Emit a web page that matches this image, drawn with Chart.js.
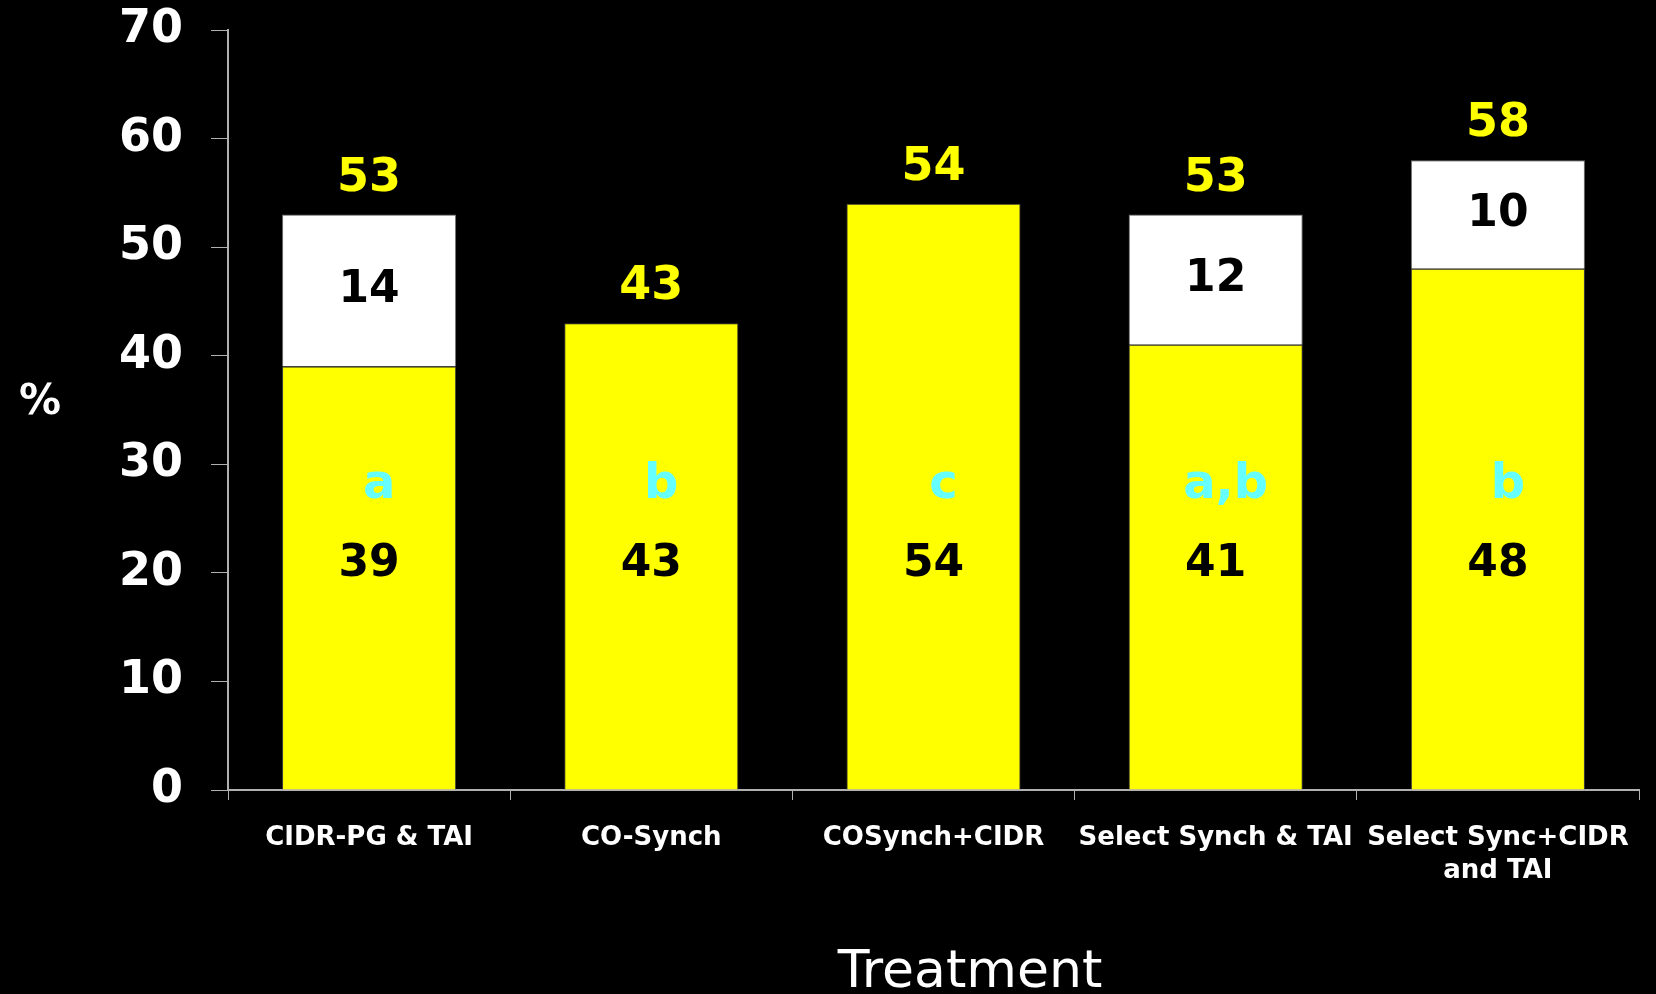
<!DOCTYPE html>
<html>
<head>
<meta charset="utf-8">
<script src="https://cdn.jsdelivr.net/npm/chart.js@4.4.0/dist/chart.umd.min.js"></script>
<style>
  body { margin: 0; background: #000; }
  #wrap { width: 1656px; height: 994px; }
</style>
</head>
<body>
<div id="wrap"><canvas id="treatChart" width="1656" height="994"></canvas></div>
<script>
// data
const treatments = [
  "CIDR-PG & TAI",
  "CO-Synch",
  "COSynch+CIDR",
  "Select Synch & TAI",
  ["Select Sync+CIDR", "and TAI"],
];
const firstPart = [39, 43, 54, 41, 48];
const secondPart = [14, null, null, 12, 10];
const totals = [53, 43, 54, 53, 58];
const letters = ["a", "b", "c", "a,b", "b"];
const yTicks = [0, 10, 20, 30, 40, 50, 60, 70];

const FONT = "'DejaVu Sans', Verdana, sans-serif";

// draws the numbers, letters and the two axis titles
const slideLabels = {
  id: "slideLabels",
  afterDatasetsDraw(chart) {
    const ctx = chart.ctx;
    const y = chart.scales.y;
    const low = chart.getDatasetMeta(0).data;
    const high = chart.getDatasetMeta(1).data;
    ctx.save();
    ctx.textAlign = "center";
    ctx.textBaseline = "middle";

    low.forEach((bar, i) => {
      const topY = secondPart[i] ? high[i].y : bar.y;

      ctx.fillStyle = "#ffff00";
      ctx.font = "bold 46px " + FONT;
      ctx.fillText(String(totals[i]), bar.x, topY - 36);

      ctx.fillStyle = "#66ffff";
      ctx.font = "bold 48px " + FONT;
      ctx.fillText(letters[i], bar.x + 10, y.getPixelForValue(28));

      ctx.fillStyle = "#000";
      ctx.font = "bold 44px " + FONT;
      ctx.fillText(String(firstPart[i]), bar.x, y.getPixelForValue(20.8));

      if (secondPart[i]) {
        const h = high[i];
        ctx.fillText(String(secondPart[i]), h.x, (h.y + h.base) / 2);
      }
    });

    ctx.fillStyle = "#fff";
    ctx.font = "bold 42px " + FONT;
    ctx.fillText("%", 40, 403);

    ctx.font = "52px " + FONT;
    ctx.fillText("Treatment", 970, 973);
    ctx.restore();
  },
};

const ctx = document.getElementById("treatChart");

new Chart(ctx, {
  type: "bar",
  data: {
    labels: treatments,
    datasets: [
      {
        label: "first",
        data: firstPart,
        backgroundColor: "#ffff00",
        borderColor: "#404040",
        borderWidth: 1,
        barPercentage: 0.617,
        categoryPercentage: 1,
      },
      {
        label: "second",
        data: secondPart,
        backgroundColor: "#ffffff",
        borderColor: "#707070",
        borderWidth: 1,
        barPercentage: 0.617,
        categoryPercentage: 1,
      },
    ],
  },
  options: {
    responsive: false,
    animation: false,
    layout: { padding: { top: 30, right: 17, bottom: 0, left: 0 } },
    plugins: {
      legend: { display: false },
      tooltip: { enabled: false },
    },
    scales: {
      x: {
        stacked: true,
        border: { color: "#b0b0b0", width: 2 },
        grid: {
          drawOnChartArea: false,
          drawTicks: true,
          tickLength: 10,
          color: "#b0b0b0",
        },
        ticks: {
          color: "#fff",
          font: { family: FONT, size: 26, weight: "bold", lineHeight: 1.3 },
          maxRotation: 0,
          autoSkip: false,
          padding: 21,
        },
        afterFit(scale) {
          scale.height = 204;
        },
      },
      y: {
        stacked: true,
        min: 0,
        max: 70,
        afterBuildTicks(scale) {
          scale.ticks = yTicks.map((v) => ({ value: v }));
        },
        border: { color: "#b0b0b0", width: 2 },
        grid: {
          drawOnChartArea: false,
          drawTicks: true,
          tickLength: 17,
          color: "#b0b0b0",
        },
        ticks: {
          color: "#fff",
          font: { family: FONT, size: 46, weight: "bold" },
          padding: 28,
        },
        afterFit(scale) {
          scale.width = 228;
          scale.paddingTop = 0;
          scale.paddingBottom = 0;
        },
      },
    },
  },
  plugins: [slideLabels],
});
</script>
</body>
</html>
